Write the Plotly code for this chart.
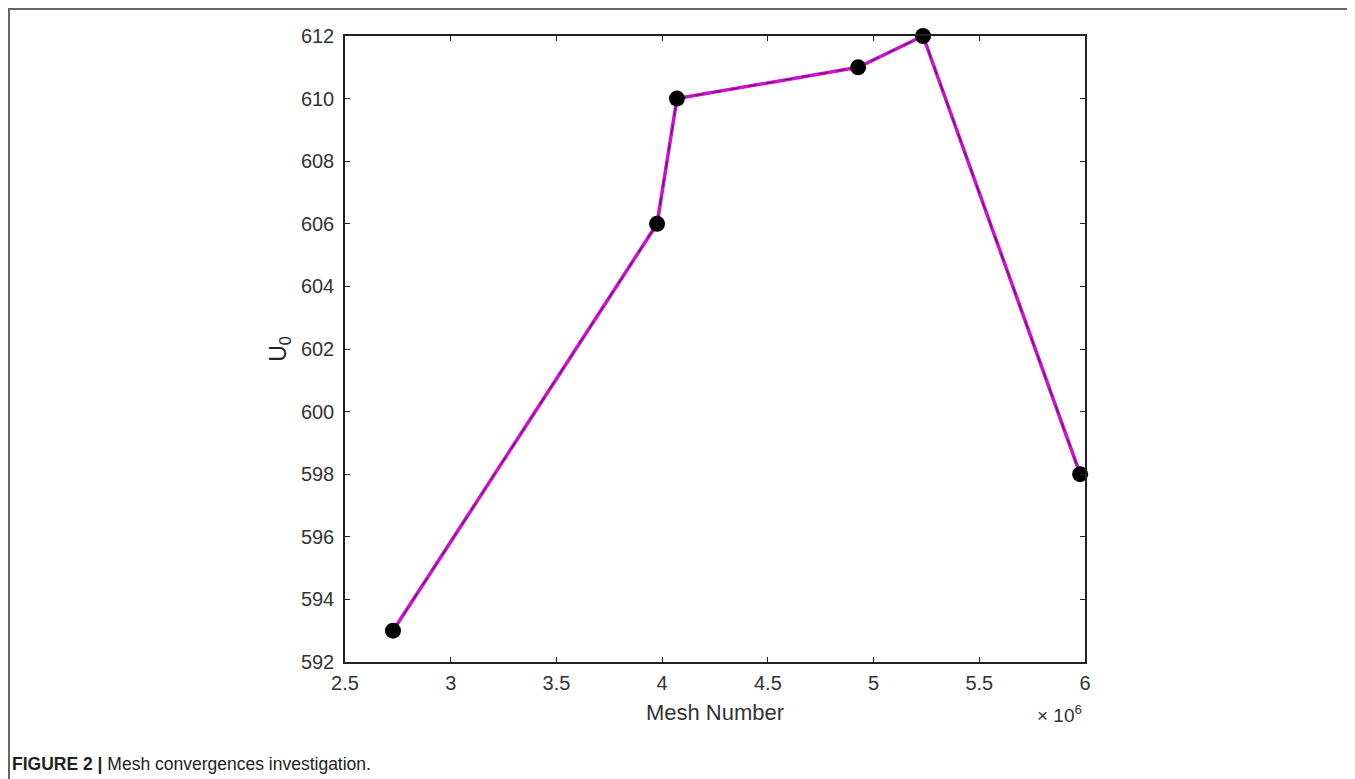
import plotly.graph_objects as go

mesh_number = [2.727e6, 3.976e6, 4.070e6, 4.927e6, 5.234e6, 5.977e6]
u0_values = [593, 606, 610, 611, 612, 598]
x_ticks = [2.5e6, 3e6, 3.5e6, 4e6, 4.5e6, 5e6, 5.5e6, 6e6]
x_tick_labels = ["2.5", "3", "3.5", "4", "4.5", "5", "5.5", "6"]
y_ticks = [592, 594, 596, 598, 600, 602, 604, 606, 608, 610, 612]

fig = go.Figure()
fig.add_trace(go.Scatter(x=mesh_number, y=u0_values, mode="lines",
                         line=dict(color="#d010d0", width=3.5), showlegend=False,
                         cliponaxis=False))
fig.add_trace(go.Scatter(x=mesh_number, y=u0_values, mode="lines+markers",
                         line=dict(color="#4a1a4a", width=1, dash="dash"),
                         marker=dict(color="black", size=16, symbol="circle"),
                         showlegend=False, cliponaxis=False))

OFF = 8  # page body margin
W, H = 1355 - OFF, 779 - OFF
L, R, T, B = 345 - OFF, 1085 - OFF, 36 - OFF, 662 - OFF
pw, ph = R - L, B - T

def px(x):
    return (x - OFF - L) / pw

def py(y):
    return (B - (y - OFF)) / ph

FONT = "Liberation Sans, Arial"
axis_common = dict(showgrid=False, zeroline=False, showline=True, linecolor="#222",
                   linewidth=1.5, mirror="ticks", ticks="inside", ticklen=5,
                   tickcolor="#222", tickwidth=1.2,
                   tickfont=dict(family=FONT, size=20, color="#333"))

fig.update_layout(
    width=W, height=H,
    margin=dict(l=L, r=W - R, t=T, b=H - B),
    paper_bgcolor="white", plot_bgcolor="white",
    xaxis=dict(range=[2.5e6, 6e6], tickvals=x_ticks, ticktext=x_tick_labels,
               ticklabelstandoff=2,
               title=dict(text="Mesh Number", standoff=12,
                          font=dict(family=FONT, size=22, color="#333")),
               **axis_common),
    yaxis=dict(range=[592, 612], tickvals=y_ticks, ticklabelstandoff=5,
               title=dict(text="U<sub>0</sub>", standoff=8,
                          font=dict(family=FONT, size=23, color="#222")),
               **axis_common),
    shapes=[
        dict(type="line", xref="paper", yref="paper", x0=px(8), x1=px(1354), y0=py(9), y1=py(9),
             line=dict(color="#666", width=2)),
        dict(type="line", xref="paper", yref="paper", x0=px(9), x1=px(9), y0=py(9), y1=py(800),
             line=dict(color="#666", width=2)),
        dict(type="line", xref="paper", yref="paper", x0=px(1353), x1=px(1353), y0=py(9), y1=py(800),
             line=dict(color="#666", width=2)),
    ],
    annotations=[
        dict(text="× 10<sup>6</sup>", xref="paper", yref="paper", x=px(1035), y=py(714),
             xanchor="left", yanchor="middle", showarrow=False,
             font=dict(family=FONT, size=19, color="#333")),
        dict(text="<b>FIGURE 2 |</b> Mesh convergences investigation.", xref="paper", yref="paper",
             x=px(10), y=py(764), xanchor="left", yanchor="middle", showarrow=False,
             font=dict(family=FONT, size=17.5, color="#222")),
    ],
)

fig.write_html("out.html")
